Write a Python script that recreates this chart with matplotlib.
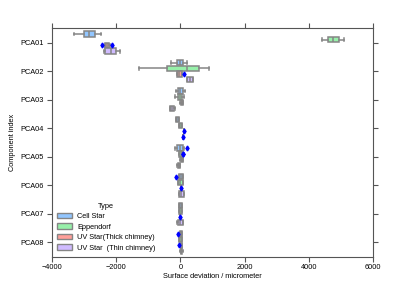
import numpy as np
import matplotlib
matplotlib.use('Agg')
import matplotlib.pyplot as plt
from matplotlib.patches import Patch

# categories and hue levels
categories = ['PCA01', 'PCA02', 'PCA03', 'PCA04', 'PCA05', 'PCA06', 'PCA07', 'PCA08']
hue_labels = ['Cell Star', 'Eppendorf', 'UV Star(Thick chimney)', 'UV Star  (Thin chimney)']

# box stats (micrometer)
cell_lo = [-3300, -290, -140, -150, -170, -45, -40, -20]
cell_q1 = [-2990, -110, -65, -150, -95, -45, -40, -20]
cell_med = [-2825, -15, 5, -95, -15, 10, 0, 20]
cell_q3 = [-2660, 70, 70, -40, 70, 70, 40, 60]
cell_hi = [-2480, 210, 140, -40, 110, 75, 45, 65]
cell_fl = [[], [], [], [], [215], [-135], [], [-75]]

epp_lo = [4400, -1295, -165, -55, -40, -65, -40, -40]
epp_q1 = [4590, -405, -65, -55, -40, -65, -40, -40]
epp_med = [4755, 195, 0, 0, 20, 0, 0, 0]
epp_q3 = [4920, 575, 40, 50, 60, 70, 40, 40]
epp_hi = [5095, 905, 120, 50, 60, 70, 40, 40]
epp_fl = [[], [], [], [], [90, 95], [], [], []]

thick_lo = [-2350, -110, 5, 115, 5, 30, 0, 5]
thick_q1 = [-2340, -100, 15, 115, 15, 30, 0, 10]
thick_med = [-2280, -30, 45, 115, 50, 30, 0, 25]
thick_q3 = [-2210, 40, 80, 115, 85, 30, 0, 40]
thick_hi = [-2200, 50, 90, 115, 95, 30, 0, 45]
thick_fl = [[-2420, -2130], [115], [], [115], [], [30], [0], [-45]]

thin_lo = [-2380, 215, -330, 95, -90, -55, -90, 0]
thin_q1 = [-2330, 220, -320, 95, -80, -50, -85, 10]
thin_med = [-2160, 310, -255, 95, -40, 25, 0, 35]
thin_q3 = [-1985, 400, -190, 95, 0, 100, 85, 65]
thin_hi = [-1880, 405, -180, 95, 5, 105, 90, 70]
thin_fl = [[], [], [], [95], [], [], [], []]

colors = ['#92C6FF', '#97F0AA', '#FF9F9A', '#D0BBFF']
gray = '#858585'

plt.rcParams['font.family'] = ['Liberation Sans', 'DejaVu Sans']
plt.rcParams['font.size'] = 5.3

fig = plt.figure(figsize=(4.15, 2.86), dpi=100)
ax = fig.add_axes([0.1245, 0.1025, 0.7751, 0.7985])

groups = [
    (cell_lo, cell_q1, cell_med, cell_q3, cell_hi, cell_fl),
    (epp_lo, epp_q1, epp_med, epp_q3, epp_hi, epp_fl),
    (thick_lo, thick_q1, thick_med, thick_q3, thick_hi, thick_fl),
    (thin_lo, thin_q1, thin_med, thin_q3, thin_hi, thin_fl),
]
offsets = [-0.3, -0.1, 0.1, 0.3]

for h, (lo, q1, med, q3, hi, fl) in enumerate(groups):
    stats = []
    for i in range(len(categories)):
        stats.append(dict(whislo=lo[i], q1=q1[i], med=med[i], q3=q3[i],
                          whishi=hi[i], fliers=np.array(fl[i], dtype=float)))
    pos = np.arange(len(categories)) + offsets[h]
    ax.bxp(stats, positions=pos, widths=0.19, orientation='horizontal',
           patch_artist=True, manage_ticks=False,
           boxprops=dict(facecolor=colors[h], edgecolor=gray, linewidth=1.1),
           medianprops=dict(color=gray, linewidth=1.1),
           whiskerprops=dict(color=gray, linewidth=1.1, linestyle='-'),
           capprops=dict(color=gray, linewidth=1.1),
           flierprops=dict(marker='d', markerfacecolor='blue', markeredgecolor='blue',
                           markersize=2.5, linestyle='none', zorder=5))

ax.set_xlim(-4000, 6000)
ax.set_ylim(len(categories) - 0.5, -0.5)
ax.set_xticks([-4000, -2000, 0, 2000, 4000, 6000])
ax.set_yticks(range(len(categories)))
ax.set_yticklabels(categories)
ax.set_xlabel('Surface deviation / micrometer', labelpad=1)
ax.set_ylabel('Component index', labelpad=3)

for s in ax.spines.values():
    s.set_color('#555555')
    s.set_linewidth(0.8)
ax.tick_params(direction='out', length=3.5, width=0.8, color='#555555',
               top=True, right=True, labeltop=False, labelright=False, pad=2)

handles = [Patch(facecolor=colors[k], edgecolor=gray, linewidth=1.0) for k in range(4)]
ax.legend(handles, hue_labels, title='Type', loc='lower left', frameon=False,
          fontsize=5.3, title_fontsize=5.3, handlelength=2.0, handleheight=0.7,
          labelspacing=0.45, borderaxespad=0.3, bbox_to_anchor=(0.0, 0.0))

fig.savefig('out.png', dpi=100)
